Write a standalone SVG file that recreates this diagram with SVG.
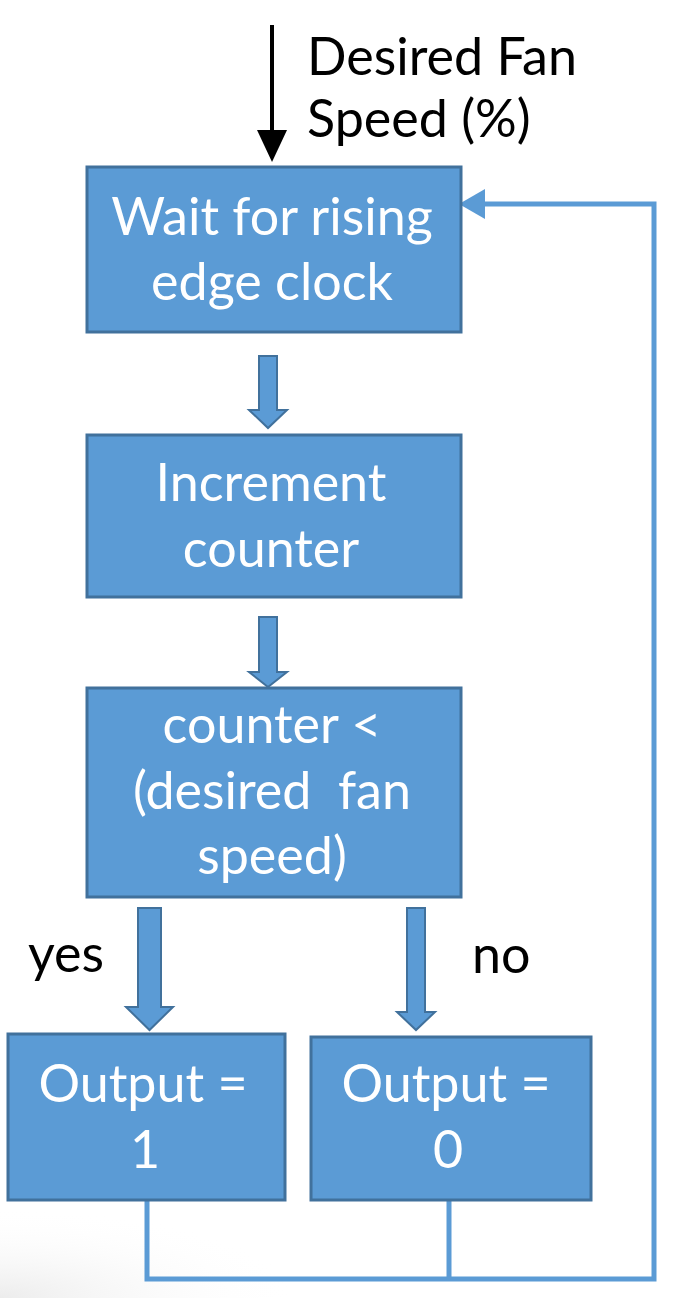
<svg xmlns="http://www.w3.org/2000/svg" width="676" height="1298" viewBox="0 0 676 1298">
<style>
.box{fill:#5B9BD5;stroke:#41719C;stroke-width:3}
.barrow{fill:#5B9BD5;stroke:#41719C;stroke-width:2;stroke-linejoin:miter}
.wt{font-family:Lato,"Open Sans",sans-serif;font-size:52px;fill:#FFFFFF;text-anchor:middle}
.bt{font-family:Lato,"Open Sans",sans-serif;font-size:52px;fill:#000000}
.fb{fill:none;stroke:#5B9BD5;stroke-width:5}
</style>
<defs>
<radialGradient id="shade" cx="0" cy="1298" r="300" gradientUnits="userSpaceOnUse" gradientTransform="translate(0,1298) scale(1,0.3) translate(0,-1298)">
<stop offset="0" stop-color="#ECECEC"/>
<stop offset="1" stop-color="#FFFFFF" stop-opacity="0"/>
</radialGradient>
</defs>
<rect width="676" height="1298" fill="#FFFFFF"/>
<rect x="0" y="1200" width="676" height="98" fill="url(#shade)"/>
<g id="connectors">
<g id="input-arrow">
<line x1="272" y1="25" x2="272" y2="132" stroke="#000" stroke-width="4"/>
<polygon points="257,130 287,130 272,162" fill="#000"/>
</g>
<polygon id="arrow-1-2" class="barrow" points="259,356 277,356 277,410 287,410 268,428 249,410 259,410"/>
<polygon id="arrow-2-3" class="barrow" points="259,617 277,617 277,672 287,672 268,687 249,672 259,672"/>
<polygon id="arrow-yes" class="barrow" points="138,908 161,908 161,1007 173,1007 149.5,1030 126,1007 138,1007"/>
<polygon id="arrow-no" class="barrow" points="407,908 425,908 425,1012 435,1012 416,1030 397,1012 407,1012"/>
<polyline id="loop-1" class="fb" points="147,1200 147,1279 654,1279 654,204 484,204"/>
<polygon points="459,204 485,189 485,219" fill="#5B9BD5"/>
<line id="loop-0" class="fb" x1="449" y1="1200" x2="449" y2="1279"/>
</g>
<g id="label-input">
<text class="bt" x="307" y="75">Desired Fan</text>
<text class="bt" x="307" y="137">Speed (%)</text>
</g>
<g id="node-wait">
<rect class="box" x="87" y="167" width="374" height="165"/>
<text class="wt" x="272" y="235">Wait for rising</text>
<text class="wt" x="272" y="300">edge clock</text>
</g>
<g id="node-increment">
<rect class="box" x="87" y="435" width="374" height="162"/>
<text class="wt" x="271" y="501">Increment</text>
<text class="wt" x="271" y="567">counter</text>
</g>
<g id="node-compare">
<rect class="box" x="87" y="688" width="374" height="209"/>
<text class="wt" x="272" y="743">counter &lt;</text>
<text class="wt" x="272" y="809" xml:space="preserve">(desired  fan</text>
<text class="wt" x="272" y="874">speed)</text>
</g>
<g id="label-yes"><text class="bt" x="28" y="972">yes</text></g>
<g id="label-no"><text class="bt" x="472" y="973">no</text></g>
<g id="node-out1">
<rect class="box" x="8" y="1034" width="277" height="166"/>
<text class="wt" x="143" y="1102">Output =</text>
<text class="wt" x="145" y="1168">1</text>
</g>
<g id="node-out0">
<rect class="box" x="311" y="1037" width="280" height="163"/>
<text class="wt" x="446" y="1102">Output =</text>
<text class="wt" x="448" y="1168">0</text>
</g>
</svg>
